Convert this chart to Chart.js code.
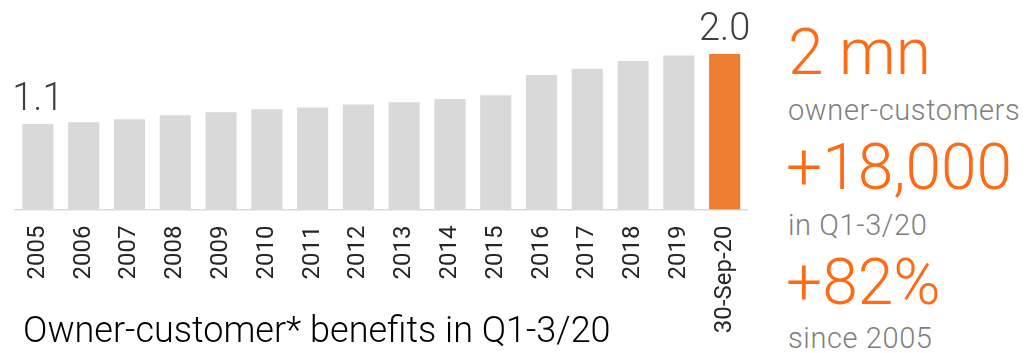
<!DOCTYPE html>
<html>
<head>
<meta charset="utf-8">
<script src="https://cdn.jsdelivr.net/npm/chart.js@4/dist/chart.umd.min.js"></script>
<style>
  html, body { margin: 0; padding: 0; background: #fff; }
  #wrap { position: relative; width: 1027px; height: 353px; overflow: hidden; font-family: Roboto, sans-serif; font-weight: 300; }
  #chartBox { position: absolute; left: 0; top: 0; width: 770px; height: 353px; }
  .t { position: absolute; white-space: nowrap; line-height: 1; }
  .big { color: #FF6A13; font-size: 64px; }
  .small { color: #7F7F7F; font-size: 29px; letter-spacing: 0.6px; }
  #title { color: #000; font-size: 36px; }
</style>
</head>
<body>
<div id="wrap">
  <div id="chartBox"><canvas id="c"></canvas></div>
  <div class="t" id="title">Owner-customer* benefits in Q1-3/20</div>
  <div class="t big" id="r1">2 mn</div>
  <div class="t small" id="r2">owner-customers</div>
  <div class="t big" id="r3">+18,000</div>
  <div class="t small" id="r4">in Q1-3/20</div>
  <div class="t big" id="r5">+82%</div>
  <div class="t small" id="r6">since 2005</div>
</div>
<script>
// Owner-customers, millions, year end (last bar: 30 Sep 2020)
const categories = ['2005', '2006', '2007', '2008', '2009', '2010', '2011', '2012',
                    '2013', '2014', '2015', '2016', '2017', '2018', '2019', '30-Sep-20'];
const ownerCustomers = [1.10, 1.12, 1.16, 1.21, 1.25, 1.29, 1.31, 1.35,
                        1.38, 1.42, 1.47, 1.73, 1.81, 1.91, 1.98, 2.00];
// bars that carry a value label
const labelledIndexes = [0, 15];

const GREY = '#D9D9D9';
const ORANGE = '#ED7D31';
const barColors = categories.map((_, i) => i === categories.length - 1 ? ORANGE : GREY);

// place a text block so that its baseline sits at y (Roboto metrics, line-height 1)
function placeText(id, left, baseline) {
  const el = document.getElementById(id);
  const fs = parseFloat(getComputedStyle(el).fontSize);
  el.style.left = left + 'px';
  el.style.top = (baseline - 0.8418 * fs) + 'px';
}
placeText('title', 23, 342);
placeText('r1', 788, 75);
placeText('r2', 788, 120);
placeText('r3', 786, 190);
placeText('r4', 788, 235);
placeText('r5', 786, 305);
placeText('r6', 788, 348);

const valueLabels = {
  id: 'valueLabels',
  afterDatasetsDraw(chart) {
    const ctx = chart.ctx;
    const meta = chart.getDatasetMeta(0);
    const data = chart.data.datasets[0].data;
    ctx.save();
    ctx.font = '300 38px Roboto, sans-serif';
    ctx.fillStyle = '#404040';
    ctx.textAlign = 'center';
    ctx.textBaseline = 'alphabetic';
    labelledIndexes.forEach(i => {
      const bar = meta.data[i];
      ctx.fillText(data[i].toFixed(1), bar.x, bar.y - 14);
    });
    ctx.restore();
  }
};

new Chart(document.getElementById('c'), {
  type: 'bar',
  data: {
    labels: categories,
    datasets: [{
      data: ownerCustomers,
      backgroundColor: barColors,
      borderWidth: 0,
      categoryPercentage: 1.0,
      barPercentage: 0.68
    }]
  },
  options: {
    responsive: true,
    maintainAspectRatio: false,
    devicePixelRatio: 1,
    animation: false,
    layout: { padding: { left: 15, right: 17, top: 15, bottom: 0 } },
    plugins: { legend: { display: false }, tooltip: { enabled: false } },
    scales: {
      x: {
        grid: { display: false, drawTicks: false },
        border: { display: true, color: '#DADADA', width: 1.5 },
        ticks: {
          color: '#262626',
          font: { family: 'Roboto, sans-serif', size: 24, weight: '400' },
          minRotation: 90,
          maxRotation: 90,
          padding: 16,
          autoSkip: false
        },
        afterFit(scale) { scale.height = 143.5; }
      },
      y: {
        display: false,
        min: 0,
        max: 2.5
      }
    }
  },
  plugins: [valueLabels]
});
</script>
</body>
</html>
